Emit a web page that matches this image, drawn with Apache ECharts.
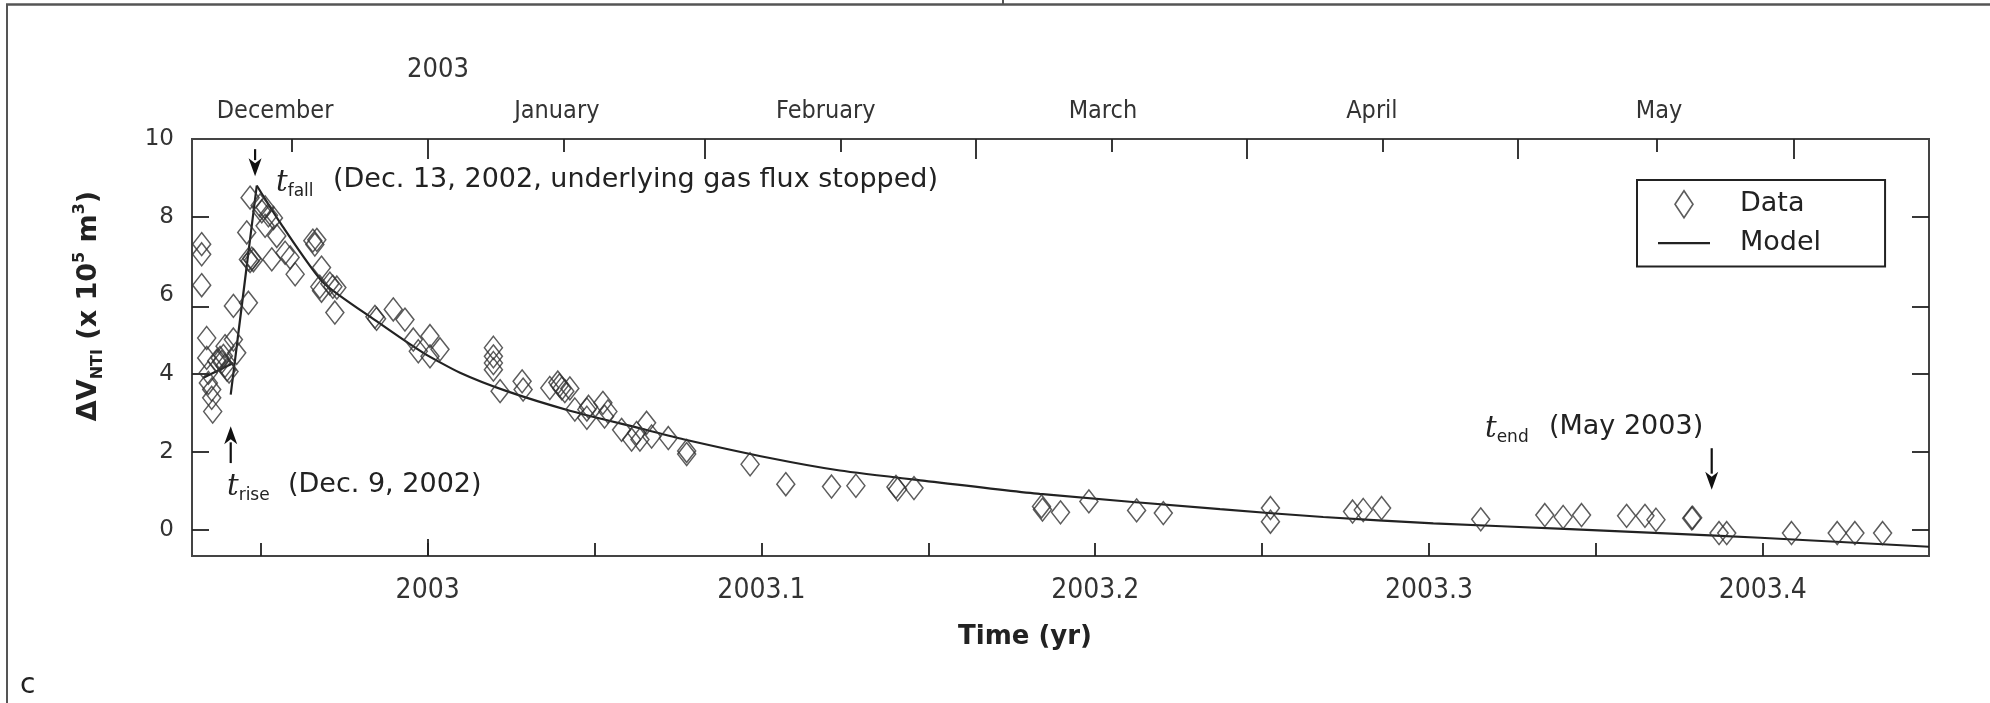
<!DOCTYPE html>
<html><head><meta charset="utf-8">
<script src="https://cdn.jsdelivr.net/npm/echarts@6/dist/echarts.min.js"></script>
<style>html,body{margin:0;padding:0;background:#fff}#c{width:1990px;height:703px}</style>
</head><body><div id="c"></div>
<script>
// ---- data (decimal year, volume x 1e5 m^3) ----
const dataYear = [
 2002.9323, 2002.9323, 2002.9323, 2002.9338, 2002.9338, 2002.9343, 2002.9343, 2002.9353, 2002.9353, 2002.9356,
 2002.9368, 2002.9378, 2002.9383, 2002.9388, 2002.9393, 2002.9399, 2002.9393, 2002.9418, 2002.9418, 2002.9428,
 2002.9405, 2002.9458, 2002.9463, 2002.9463, 2002.9468, 2002.9473, 2002.9478, 2002.9468, 2002.9498, 2002.9503,
 2002.9513, 2002.9523, 2002.9538, 2002.9513, 2002.9548, 2002.9533, 2002.9573, 2002.9588, 2002.9603, 2002.9656,
 2002.9662, 2002.9668, 2002.9682, 2002.9677, 2002.9682, 2002.9707, 2002.9716, 2002.9728, 2002.9722, 2002.9842,
 2002.9847, 2002.9897, 2002.9932, 2002.9957, 2002.9972, 2003.0007, 2003.0007, 2003.0037, 2003.0197, 2003.0197,
 2003.0197, 2003.0197, 2003.0217, 2003.0283, 2003.0286, 2003.0366, 2003.0390, 2003.0395, 2003.0402, 2003.0411,
 2003.0426, 2003.0441, 2003.0477, 2003.0477, 2003.0482, 2003.0525, 2003.0540, 2003.0530, 2003.0581, 2003.0611,
 2003.0636, 2003.0626, 2003.0656, 2003.0671, 2003.0721, 2003.0776, 2003.0776, 2003.0966, 2003.1073, 2003.1210,
 2003.1283, 2003.1403, 2003.1408, 2003.1457, 2003.1839, 2003.1842, 2003.1896, 2003.1981, 2003.2124, 2003.2204,
 2003.2525, 2003.2525, 2003.2771, 2003.2803, 2003.2858, 2003.3155, 2003.3347, 2003.3402, 2003.3457, 2003.3592,
 2003.3647, 2003.3680, 2003.3787, 2003.3790, 2003.3869, 2003.3892, 2003.4086, 2003.4223, 2003.4276, 2003.4359
];
const dataVol = [
 7.31, 7.05, 6.26, 4.91, 4.40, 4.02, 3.76, 3.59, 3.38, 3.03,
 4.32, 4.40, 4.30, 4.45, 4.20, 4.10, 4.70, 4.87, 5.73, 4.53,
 4.05, 7.61, 5.81, 6.92, 6.88, 6.94, 6.90, 8.50, 8.30, 8.15,
 8.25, 8.05, 7.98, 7.78, 7.52, 6.92, 7.09, 6.97, 6.54, 7.40,
 7.30, 7.42, 6.71, 6.22, 6.12, 6.30, 6.22, 6.20, 5.56, 5.45,
 5.40, 5.64, 5.38, 4.87, 4.57, 4.96, 4.44, 4.62, 4.66, 4.44,
 4.27, 4.10, 3.55, 3.80, 3.59, 3.63, 3.77, 3.70, 3.62, 3.55,
 3.62, 3.08, 3.08, 2.87, 3.15, 3.25, 3.03, 2.90, 2.56, 2.31,
 2.31, 2.48, 2.74, 2.39, 2.35, 1.94, 2.02, 1.68, 1.17, 1.11,
 1.13, 1.10, 1.04, 1.07, 0.60, 0.52, 0.45, 0.73, 0.50, 0.43,
 0.56, 0.21, 0.47, 0.51, 0.56, 0.27, 0.38, 0.33, 0.38, 0.36,
 0.36, 0.26, 0.30, 0.31, -0.08, -0.08, -0.08, -0.08, -0.08, -0.08
];
// model curve, read in three pieces: pre-rise baseline, rise, decay
const modelPreYear = [2002.9328, 2002.9418];
const modelPreVol = [3.89, 4.27];
const modelRiseYear = [2002.9410, 2002.9488];
const modelRiseVol = [3.46, 8.81];
const modelDecayYear = [2002.9488, 2002.9558, 2002.9687, 2002.9847, 2002.9987,
 2003.0097, 2003.0237, 2003.0426, 2003.0636, 2003.0766, 2003.1025, 2003.1235, 2003.1495, 2003.1834, 2003.2374,
 2003.2683, 2003.3013, 2003.3422, 2003.3692, 2003.3992, 2003.4498];
const modelDecayVol = [8.81, 7.86, 6.33, 5.34, 4.53,
 4.02, 3.55, 3.05, 2.60, 2.32, 1.84, 1.52, 1.25, 0.92, 0.53,
 0.33, 0.17, 0.02, -0.08, -0.20, -0.43];

// axes
const xMin = 2002.9294, xMax = 2003.4498;
const yMin = -0.667, yMax = 10;
const xTickValues = [2002.95, 2003.0, 2003.05, 2003.1, 2003.15, 2003.2, 2003.25, 2003.3, 2003.35, 2003.4];
const xLabelValues = [2003.0, 2003.1, 2003.2, 2003.3, 2003.4];
const xLabelTexts = ['2003', '2003.1', '2003.2', '2003.3', '2003.4'];
const yTickValues = [0, 2, 4, 5.7, 8];
const yLabelValues = [0, 2, 4, 6, 8, 10];
const monthMajorTicks = [2003.0, 2003.0831, 2003.1643, 2003.2455, 2003.3267, 2003.4094];
const monthMinorTicks = [2002.9592, 2003.0408, 2003.1237, 2003.2050, 2003.2862, 2003.3682];
const monthLabelPos = [2002.9543, 2003.0387, 2003.1193, 2003.2023, 2003.2829, 2003.3689];
const monthNames = ['December', 'January', 'February', 'March', 'April', 'May'];

// annotation arrows (data coords)
const arrowYear = [2002.9483, 2002.9410, 2003.3847];
const arrowTail = [9.74, 1.71, 2.09];
const arrowTip = [9.05, 2.65, 1.03];

function nearestIdx(arr, v) {
  let bi = 0, bd = Infinity;
  arr.forEach((a, i) => { const d = Math.abs(a - v); if (d < bd) { bd = d; bi = i; } });
  return bi;
}

const SANS = 'DejaVu Sans';
const COND = '"DejaVu Sans Condensed", "Liberation Sans Narrow", sans-serif';
const INK = '#222';

const chart = echarts.init(document.getElementById('c'), null, { renderer: 'canvas' });

const pairs = (xs, ys) => xs.map((t, i) => [t, ys[i]]);

const baseTick = (len, vals) => ({ show: true, inside: true, length: len, customValues: vals, lineStyle: { color: INK, width: 1.8 } });
const noLine = { show: false, onZero: false };

const modelLine = (data, smooth) => ({
  name: 'Model', type: 'line', xAxisIndex: 0, yAxisIndex: 0, data,
  showSymbol: false, symbol: 'none', smooth: smooth ? 0.2 : false,
  lineStyle: { color: INK, width: 2.2 }, z: 2
});

const option = {
  animation: false,
  backgroundColor: '#fff',
  grid: { left: 192, top: 139, width: 1737, height: 417, show: true, borderColor: '#444', borderWidth: 2, backgroundColor: 'transparent' },
  xAxis: [
    { type: 'value', position: 'bottom', min: xMin, max: xMax,
      axisLine: noLine, splitLine: { show: false },
      axisTick: baseTick(13, xTickValues),
      axisLabel: { customValues: xLabelValues, margin: 21, fontFamily: COND, fontSize: 28, color: '#333',
        formatter: v => xLabelTexts[nearestIdx(xLabelValues, v)] },
      name: 'Time (yr)', nameLocation: 'middle', nameGap: 68,
      nameTextStyle: { fontFamily: SANS, fontWeight: 'bold', fontSize: 26, color: INK, padding: [0, 71, 0, 0] } },
    { type: 'value', position: 'bottom', min: xMin, max: xMax,
      axisLine: noLine, splitLine: { show: false },
      axisTick: baseTick(17, [2003.0]), axisLabel: { show: false } },
    { type: 'value', position: 'top', min: xMin, max: xMax,
      axisLine: noLine, splitLine: { show: false },
      axisTick: baseTick(20, monthMajorTicks), axisLabel: { show: false } },
    { type: 'value', position: 'top', min: xMin, max: xMax,
      axisLine: noLine, splitLine: { show: false },
      axisTick: baseTick(13, monthMinorTicks),
      axisLabel: { customValues: monthLabelPos, margin: 15, fontFamily: COND, fontSize: 25, color: '#333',
        formatter: v => monthNames[nearestIdx(monthLabelPos, v)] } }
  ],
  yAxis: [
    { type: 'value', position: 'left', min: yMin, max: yMax,
      axisLine: noLine, splitLine: { show: false },
      axisTick: baseTick(17, yTickValues),
      axisLabel: { customValues: yLabelValues, margin: 18, fontFamily: SANS, fontSize: 23, color: '#333' },
      name: 'ΔV{sub|NTI} (x 10{sup|5} m{sup|3})', nameLocation: 'middle', nameGap: 86,
      nameTextStyle: { fontFamily: SANS, fontWeight: 'bold', fontSize: 27, lineHeight: 34, color: INK,
        padding: [0, 0, 0, 83],
        rich: {
          sub: { fontFamily: SANS, fontWeight: 'bold', fontSize: 16, lineHeight: 16, verticalAlign: 'bottom', color: INK },
          sup: { fontFamily: SANS, fontWeight: 'bold', fontSize: 16, lineHeight: 16, verticalAlign: 'top', color: INK }
        } } },
    { type: 'value', position: 'right', min: yMin, max: yMax,
      axisLine: noLine, splitLine: { show: false },
      axisTick: baseTick(17, yTickValues), axisLabel: { show: false } }
  ],
  legend: {
    left: 1637, top: 180, orient: 'vertical', selectedMode: false,
    padding: [10, 64, 10, 21], itemGap: 11, itemWidth: 52, itemHeight: 27,
    borderColor: INK, borderWidth: 2,
    textStyle: { fontFamily: SANS, fontSize: 27, color: INK, padding: [0, 0, 0, 25] },
    data: [
      { name: 'Data', icon: 'path://M9,0L18,13.5L9,27L0,13.5Z',
        itemStyle: { color: 'transparent', borderColor: '#333', borderWidth: 1.6 } },
      { name: 'Model', icon: 'path://M0,0L52,0L52,2.2L0,2.2Z',
        itemStyle: { color: INK, borderWidth: 0 } }
    ]
  },
  series: [
    { name: 'Data', type: 'scatter', xAxisIndex: 0, yAxisIndex: 0, data: pairs(dataYear, dataVol),
      symbol: 'diamond', symbolSize: [18, 23],
      itemStyle: { color: 'transparent', borderColor: '#333', borderWidth: 1.5 }, z: 3 },
    modelLine(pairs(modelPreYear, modelPreVol), false),
    modelLine(pairs(modelRiseYear, modelRiseVol), false),
    modelLine(pairs(modelDecayYear, modelDecayVol), true)
  ]
};
chart.setOption(option);

// ---- annotations ----
const px = (x, y) => chart.convertToPixel({ seriesIndex: 0 }, [x, y]);
const g = [];
arrowYear.forEach((t, i) => {
  const a = px(t, arrowTail[i]), b = px(t, arrowTip[i]);
  const dir = Math.sign(b[1] - a[1]);
  const head = 16, hw = 6.5;
  g.push({ type: 'line', silent: true, shape: { x1: a[0], y1: a[1], x2: b[0], y2: b[1] - dir * head },
    style: { stroke: '#111', lineWidth: 2.2 } });
  g.push({ type: 'polygon', silent: true,
    shape: { points: [[b[0], b[1]], [b[0] - hw, b[1] - dir * (head + 2)], [b[0], b[1] - dir * (head - 3)], [b[0] + hw, b[1] - dir * (head + 2)]] },
    style: { fill: '#111' } });
});
const tRich = {
  t: { fontFamily: 'DejaVu Serif', fontStyle: 'italic', fontSize: 29, lineHeight: 34, verticalAlign: 'middle', fill: INK },
  s: { fontFamily: SANS, fontSize: 17, lineHeight: 17, verticalAlign: 'bottom', fill: INK }
};
const txt = (text, x, y, size, font) => ({ type: 'text', silent: true,
  style: { text, x, y, fill: INK, fontFamily: font || SANS, fontSize: size, verticalAlign: 'middle', align: 'left' } });
g.push({ type: 'text', silent: true, style: { text: '{t|t}{s|fall}', x: 276, y: 183, verticalAlign: 'middle', rich: tRich } });
g.push(txt('(Dec. 13, 2002, underlying gas flux stopped)', 333, 180, 27));
g.push({ type: 'text', silent: true, style: { text: '{t|t}{s|rise}', x: 227, y: 487, verticalAlign: 'middle', rich: tRich } });
g.push(txt('(Dec. 9, 2002)', 288, 485, 27));
g.push({ type: 'text', silent: true, style: { text: '{t|t}{s|end}', x: 1485, y: 429, verticalAlign: 'middle', rich: tRich } });
g.push(txt('(May 2003)', 1549, 427, 27));
g.push({ type: 'text', silent: true, style: { text: '2003', x: 438, y: 70, fill: '#333', fontFamily: COND, fontSize: 27, align: 'center', verticalAlign: 'middle' } });
g.push(txt('c', 20, 686, 28));
// panel frame fragments
g.push({ type: 'line', silent: true, shape: { x1: 6, y1: 4.5, x2: 1990, y2: 4.5 }, style: { stroke: '#555', lineWidth: 2.5 } });
g.push({ type: 'line', silent: true, shape: { x1: 7, y1: 4, x2: 7, y2: 703 }, style: { stroke: '#555', lineWidth: 2 } });
g.push({ type: 'line', silent: true, shape: { x1: 1003, y1: 0, x2: 1003, y2: 5 }, style: { stroke: '#555', lineWidth: 2 } });
chart.setOption({ graphic: g });
</script></body></html>
